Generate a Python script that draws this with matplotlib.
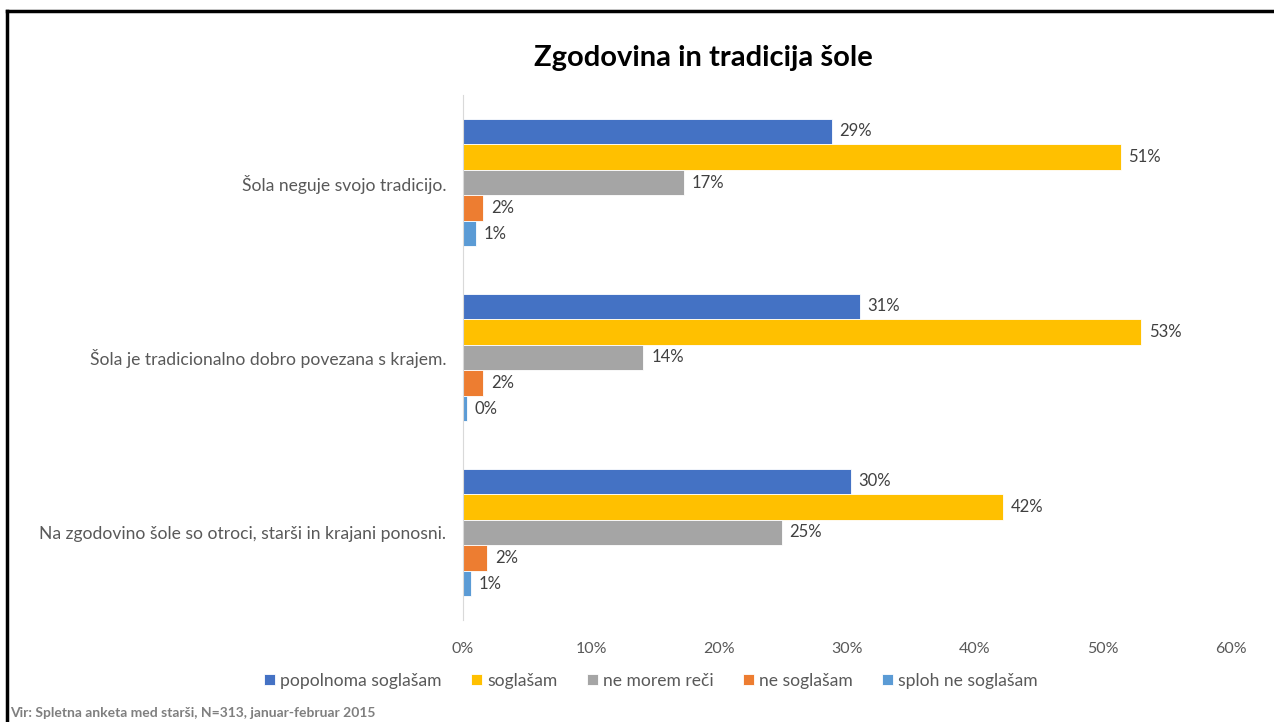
import matplotlib.pyplot as plt
import numpy as np
from matplotlib.lines import Line2D

plt.rcParams["font.family"] = ["Lato", "DejaVu Sans"]

categories = [
    "Šola neguje svojo tradicijo.",
    "Šola je tradicionalno dobro povezana s krajem.",
    "Na zgodovino šole so otroci, starši in krajani ponosni.",
]
series_names = [
    "popolnoma soglašam",
    "soglašam",
    "ne morem reči",
    "ne soglašam",
    "sploh ne soglašam",
]
# shares per category, in %
popolnoma = [28.8, 31.0, 30.3]
soglasam = [51.4, 53.0, 42.2]
ne_morem = [17.3, 14.1, 24.9]
ne_soglasam = [1.6, 1.6, 1.9]
sploh_ne = [1.0, 0.3, 0.6]
values = [popolnoma, soglasam, ne_morem, ne_soglasam, sploh_ne]

colors = ["#4472C4", "#FFC000", "#A5A5A5", "#ED7D31", "#5B9BD5"]
x_ticks = [0, 10, 20, 30, 40, 50, 60]

fig = plt.figure(figsize=(12.74, 7.22), dpi=100)
ax = fig.add_axes([0.3634, 0.1413, 0.6028, 0.7271])

bar_h = 0.146
y = np.arange(len(categories))
offsets = (np.arange(len(series_names)) - 2) * bar_h
for vals, name, col, off in zip(values, series_names, colors, offsets):
    bars = ax.barh(y + off, vals, height=bar_h, color=col, label=name,
                   edgecolor="white", linewidth=0.6)
    for b, v in zip(bars, vals):
        ax.text(v + 0.6, b.get_y() + b.get_height() / 2, f"{v:.0f}%",
                va="center", ha="left", fontsize=12, color="#404040")

ax.set_ylim(2.5, -0.5)
ax.set_xlim(0, 60)
ax.set_yticks(y)
ax.set_yticklabels(categories, fontsize=12.6, color="#595959")
ax.set_xticks(x_ticks)
ax.set_xticklabels([f"{t}%" for t in x_ticks], fontsize=11.5, color="#595959")
ax.tick_params(axis="x", length=0, pad=16)
ax.tick_params(axis="y", length=0, pad=12)
for side in ["top", "right", "bottom"]:
    ax.spines[side].set_visible(False)
ax.spines["left"].set_color("#D9D9D9")

fig.text(0.552, 0.92, "Zgodovina in tradicija šole", ha="center", va="center",
         fontsize=21, fontweight="bold", color="black")

fig.legend(loc="center", bbox_to_anchor=(0.511, 0.057), ncol=5, frameon=False,
           fontsize=12.6, handlelength=0.6, handleheight=0.6, handletextpad=0.3,
           columnspacing=1.7, labelcolor="#595959")

fig.text(0.008, 0.012, "Vir: Spletna anketa med starši, N=313, januar-februar 2015",
         ha="left", va="center", fontsize=10, fontweight="bold", color="#7F7F7F")

# slide frame
fig.add_artist(Line2D([0.0055, 1.0], [0.985, 0.985], color="black", lw=2.5,
                      transform=fig.transFigure))
fig.add_artist(Line2D([0.0055, 0.0055], [0.0, 0.985], color="black", lw=2.5,
                      transform=fig.transFigure))

fig.savefig("out.png", dpi=100)
